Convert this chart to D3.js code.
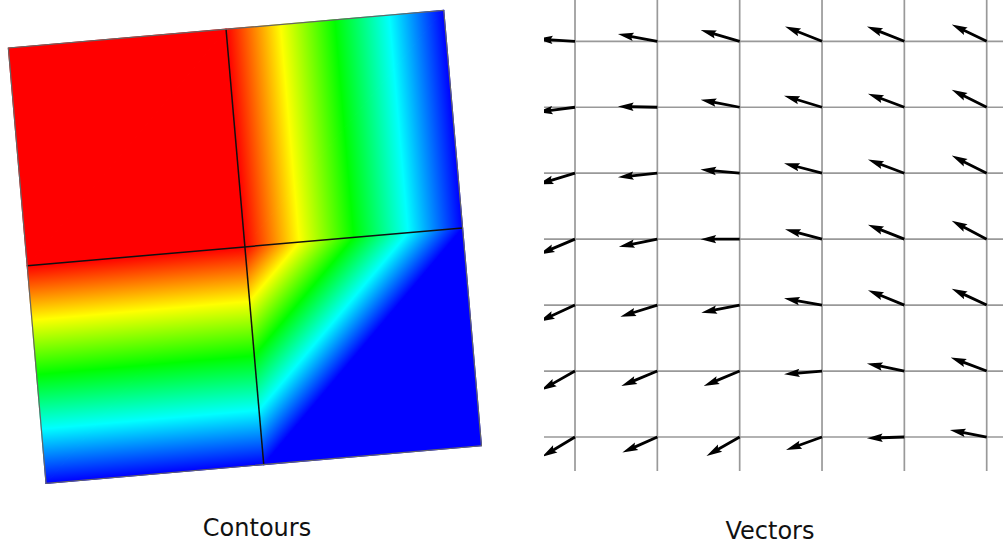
<!DOCTYPE html>
<html>
<head>
<meta charset="utf-8">
<script src="https://cdn.jsdelivr.net/npm/d3@7"></script>
<style>
  body { margin: 0; background: #fff; }
  svg { display: block; }
  text { font-family: "DejaVu Sans", sans-serif; }
</style>
</head>
<body>
<div id="container"></div>
<script>
// mesh nodes (u across, v down) and nodal values of the contour field
const nodeU = [0, 1, 2];
const nodeV = [0, 1, 2];
const nodeValues = [
  [0, 0, 1],
  [0, 0, 1],
  [1, 1, 1]
];
const colorStops = [0, 0.25, 0.5, 0.75, 1];
const colorNames = ["#ff0000", "#ffff00", "#00ff00", "#00ffff", "#0000ff"];

// vector grid: 6 columns x 7 rows, arrow components (u right, v down)
const gridCols = [0, 1, 2, 3, 4, 5];
const gridRows = [0, 1, 2, 3, 4, 5, 6];
const vecU = [
  [-0.95, -0.985, -0.975, -0.925, -0.935, -0.875],
  [-0.95, -0.985, -0.975, -0.95, -0.91, -0.875],
  [-0.93, -0.985, -0.98, -0.95, -0.91, -0.875],
  [-0.9, -0.96, -0.98, -0.925, -0.91, -0.875],
  [-0.9, -0.925, -0.96, -0.95, -0.91, -0.875],
  [-0.85, -0.9, -0.9, -0.95, -0.935, -0.9],
  [-0.83, -0.875, -0.83, -0.9, -0.935, -0.92]
];
const vecV = [
  [-0.06, -0.18, -0.28, -0.37, -0.37, -0.42],
  [0.12, -0.02, -0.19, -0.29, -0.34, -0.44],
  [0.28, 0.10, -0.09, -0.25, -0.34, -0.44],
  [0.38, 0.19, 0, -0.25, -0.36, -0.46],
  [0.41, 0.29, 0.19, -0.17, -0.37, -0.41],
  [0.48, 0.375, 0.375, 0.08, -0.19, -0.34],
  [0.5, 0.39, 0.475, 0.325, 0.03, -0.175]
];
const titles = ["Contours", "Vectors"];

const w = 1003, h = 545;

const svg = d3.select("#container").append("svg")
  .attr("width", w)
  .attr("height", h);
const defs = svg.append("defs");

// colour scale
const color = d3.scaleLinear().domain(colorStops).range(colorNames);

// ---------- contours ----------
const half = 218.5;
const uScale = d3.scaleLinear().domain([0, 2]).range([-half, half]);
const vScale = d3.scaleLinear().domain([0, 2]).range([-half, half]);

const mesh = svg.append("g")
  .attr("transform", "translate(244.9,246.9) rotate(-4.95)");

// build triangles, each cell split along its anti-diagonal
const tris = [];
for (let j = 0; j < nodeV.length - 1; j++) {
  for (let i = 0; i < nodeU.length - 1; i++) {
    const n = (ii, jj) => ({ x: uScale(nodeU[ii]), y: vScale(nodeV[jj]), f: nodeValues[jj][ii] });
    tris.push([n(i, j), n(i + 1, j), n(i, j + 1)]);
    tris.push([n(i + 1, j), n(i + 1, j + 1), n(i, j + 1)]);
  }
}

tris.forEach((t, k) => {
  const [p0, p1, p2] = t;
  const dx1 = p1.x - p0.x, dy1 = p1.y - p0.y, df1 = p1.f - p0.f;
  const dx2 = p2.x - p0.x, dy2 = p2.y - p0.y, df2 = p2.f - p0.f;
  const det = dx1 * dy2 - dy1 * dx2;
  const a = (df1 * dy2 - dy1 * df2) / det;
  const b = (dx1 * df2 - df1 * dx2) / det;
  const g2 = a * a + b * b;
  let paint;
  if (g2 < 1e-12) {
    paint = color(p0.f);
  } else {
    const id = "tri" + k;
    const lg = defs.append("linearGradient")
      .attr("id", id)
      .attr("gradientUnits", "userSpaceOnUse")
      .attr("x1", p0.x + (0 - p0.f) * a / g2)
      .attr("y1", p0.y + (0 - p0.f) * b / g2)
      .attr("x2", p0.x + (1 - p0.f) * a / g2)
      .attr("y2", p0.y + (1 - p0.f) * b / g2);
    lg.selectAll("stop").data(colorStops).enter().append("stop")
      .attr("offset", d => d)
      .attr("stop-color", d => color(d));
    paint = `url(#${id})`;
  }
  mesh.append("path")
    .attr("d", d3.line().x(d => d.x).y(d => d.y)(t) + "Z")
    .attr("fill", paint)
    .attr("stroke", paint)
    .attr("stroke-width", 1.2)
    .attr("stroke-linejoin", "round");
});

// element edges
mesh.append("line")
  .attr("x1", uScale(1)).attr("x2", uScale(1))
  .attr("y1", vScale(0)).attr("y2", vScale(2))
  .attr("stroke", "#111").attr("stroke-width", 1.5);
mesh.append("line")
  .attr("x1", uScale(0)).attr("x2", uScale(2))
  .attr("y1", vScale(1)).attr("y2", vScale(1))
  .attr("stroke", "#111").attr("stroke-width", 1.5);
mesh.append("rect")
  .attr("x", uScale(0)).attr("y", vScale(0))
  .attr("width", uScale(2) - uScale(0))
  .attr("height", vScale(2) - vScale(0))
  .attr("fill", "none")
  .attr("stroke", "#666")
  .attr("stroke-width", 1.2);

// ---------- vectors ----------
const x = d3.scaleLinear().domain([0, 5]).range([575, 986.7]);
const y = d3.scaleLinear().domain([0, 6]).range([41.3, 437]);
const len = d3.scaleLinear().domain([0, 1]).range([0, 40]);
const plotLeft = 544, plotBottom = 471;

defs.append("clipPath").attr("id", "vclip")
  .append("rect")
  .attr("x", plotLeft).attr("y", 0)
  .attr("width", w - plotLeft).attr("height", plotBottom);

const vg = svg.append("g").attr("clip-path", "url(#vclip)");

vg.selectAll(".vline").data(gridCols).enter().append("line")
  .attr("class", "vline")
  .attr("x1", d => x(d)).attr("x2", d => x(d))
  .attr("y1", 0).attr("y2", plotBottom)
  .attr("stroke", "#999").attr("stroke-width", 1.7);
vg.selectAll(".hline").data(gridRows).enter().append("line")
  .attr("class", "hline")
  .attr("x1", plotLeft).attr("x2", w)
  .attr("y1", d => y(d)).attr("y2", d => y(d))
  .attr("stroke", "#999").attr("stroke-width", 1.7);

const arrows = [];
gridRows.forEach(r => gridCols.forEach(c => {
  arrows.push({ x0: x(c), y0: y(r), dx: len(vecU[r][c]), dy: len(vecV[r][c]) });
}));

// quiver-style arrow polygon
const sw = 2.8, headW = 3 * sw, headL = 5.6 * sw, headAx = 5 * sw;
function arrowPath(d) {
  const L = Math.hypot(d.dx, d.dy);
  const ux = d.dx / L, uy = d.dy / L;
  const nx = -uy, ny = ux;
  const pt = (s, t) => [d.x0 + ux * s + nx * t, d.y0 + uy * s + ny * t];
  const pts = [
    pt(0, sw / 2), pt(L - headAx, sw / 2), pt(L - headL, headW / 2), pt(L, 0),
    pt(L - headL, -headW / 2), pt(L - headAx, -sw / 2), pt(0, -sw / 2)
  ];
  return d3.line()(pts) + "Z";
}

vg.selectAll(".arrow").data(arrows).enter().append("path")
  .attr("class", "arrow")
  .attr("d", arrowPath)
  .attr("fill", "#000");

// ---------- titles ----------
svg.selectAll(".title").data(titles).enter().append("text")
  .attr("class", "title")
  .attr("x", (d, i) => [257, 770][i])
  .attr("y", (d, i) => [535.5, 539][i])
  .attr("text-anchor", "middle")
  .attr("font-size", 24)
  .attr("fill", "#111")
  .text(d => d);
</script>
</body>
</html>
